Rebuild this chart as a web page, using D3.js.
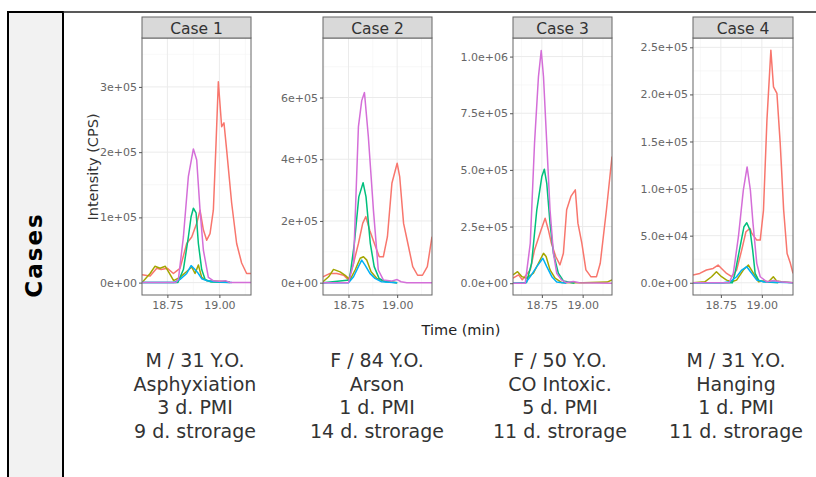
<!DOCTYPE html>
<html>
<head>
<meta charset="utf-8">
<script src="https://cdn.jsdelivr.net/npm/d3@7"></script>
<style>
  html, body { margin: 0; padding: 0; background: #fff; }
  svg { display: block; }
</style>
</head>
<body>
<svg id="chart" width="816" height="477"></svg>
<script>
// ---------------- DATA ----------------
const caseNames = ["Case 1", "Case 2", "Case 3", "Case 4"];
const seriesNames = ["s1", "s2", "s3", "s4", "s5"];
const seriesColors = ["#F8766D", "#A3A500", "#00BF7D", "#00B0F6", "#D46ED8"];

const xTickValues = [18.75, 19.00];
const xTickLabels = ["18.75", "19.00"];

const yTicksCase1 = [0, 100000, 200000, 300000];
const yLabelsCase1 = ["0e+00", "1e+05", "2e+05", "3e+05"];
const yTicksCase2 = [0, 200000, 400000, 600000];
const yLabelsCase2 = ["0e+00", "2e+05", "4e+05", "6e+05"];
const yTicksCase3 = [0, 250000, 500000, 750000, 1000000];
const yLabelsCase3 = ["0.0e+00", "2.5e+05", "5.0e+05", "7.5e+05", "1.0e+06"];
const yTicksCase4 = [0, 50000, 100000, 150000, 200000, 250000];
const yLabelsCase4 = ["0.0e+00", "5.0e+04", "1.0e+05", "1.5e+05", "2.0e+05", "2.5e+05"];

// Case 1 traces: [time (min), intensity (CPS)]
const case1Red = [[18.628,12000],[18.667,10000],[18.699,22000],[18.72,20000],[18.75,22000],[18.779,14000],[18.795,18000],[18.811,22000],[18.843,60000],[18.867,70000],[18.891,91000],[18.907,111000],[18.923,81000],[18.939,65000],[18.955,75000],[18.971,111000],[18.984,214000],[18.995,308000],[19.011,239000],[19.022,245000],[19.035,203000],[19.059,122000],[19.083,60000],[19.107,30000],[19.131,14000],[19.152,14000]];
const case1Olive = [[18.628,0],[18.667,14000],[18.69,25000],[18.715,22000],[18.74,25000],[18.76,14000],[18.78,3000],[18.81,8000],[18.843,17000],[18.867,24000],[18.883,14000],[18.899,27000],[18.915,8000],[18.939,3000],[19.0,2000],[19.05,1000]];
const case1Green = [[18.628,0],[18.80,0],[18.827,20000],[18.851,70000],[18.864,101000],[18.875,114000],[18.888,107000],[18.899,60000],[18.915,20000],[18.931,5000],[18.96,1000],[19.05,0]];
const case1Blue = [[18.628,0],[18.78,0],[18.811,5000],[18.843,14000],[18.864,26000],[18.883,20000],[18.899,14000],[18.915,6000],[18.939,3000],[19.0,1000],[19.06,0]];
const case1Purple = [[18.628,0],[18.79,0],[18.803,5000],[18.827,70000],[18.851,163000],[18.875,205000],[18.891,188000],[18.907,111000],[18.923,50000],[18.947,8000],[18.97,3000],[19.0,2000],[19.03,3000],[19.05,0],[19.152,0]];

// Case 2 traces
const case2Red = [[18.619,19000],[18.655,30000],[18.69,30000],[18.725,24000],[18.75,9000],[18.776,63000],[18.801,127000],[18.823,192000],[18.839,214000],[18.859,170000],[18.883,127000],[18.908,84000],[18.929,84000],[18.95,149000],[18.973,322000],[19.0,387000],[19.013,344000],[19.033,192000],[19.055,127000],[19.08,52000],[19.105,24000],[19.13,24000],[19.155,52000],[19.179,149000]];
const case2Olive = [[18.619,3000],[18.648,19000],[18.673,43000],[18.707,35000],[18.733,24000],[18.758,9000],[18.784,41000],[18.81,79000],[18.827,84000],[18.844,73000],[18.866,35000],[18.895,14000],[18.929,5000],[19.0,0]];
const case2Green = [[18.619,0],[18.755,9000],[18.78,127000],[18.803,278000],[18.825,324000],[18.84,278000],[18.862,127000],[18.882,52000],[18.907,14000],[18.94,3000],[19.0,0]];
const case2Blue = [[18.619,0],[18.75,0],[18.776,19000],[18.801,52000],[18.818,73000],[18.835,57000],[18.86,30000],[18.886,14000],[18.92,3000],[19.0,0]];
const case2Purple = [[18.619,0],[18.75,0],[18.776,63000],[18.801,506000],[18.818,590000],[18.832,616000],[18.852,473000],[18.878,236000],[18.903,41000],[18.929,9000],[18.97,5000],[19.0,10000],[19.02,3000],[19.05,0],[19.179,0]];

// Case 3 traces
const case3Red = [[18.573,22000],[18.607,37000],[18.63,15000],[18.679,59000],[18.705,147000],[18.745,235000],[18.77,287000],[18.79,235000],[18.808,177000],[18.835,118000],[18.861,81000],[18.882,132000],[18.902,324000],[18.928,383000],[18.955,412000],[18.971,265000],[18.995,177000],[19.02,59000],[19.05,29000],[19.085,29000],[19.108,88000],[19.146,324000],[19.18,559000]];
const case3Olive = [[18.573,37000],[18.601,51000],[18.628,29000],[18.656,22000],[18.698,44000],[18.729,88000],[18.76,132000],[18.776,118000],[18.8,59000],[18.831,22000],[18.872,3000],[19.0,2000],[19.15,5000],[19.18,15000]];
const case3Green = [[18.573,0],[18.656,3000],[18.687,88000],[18.719,324000],[18.75,471000],[18.765,503000],[18.78,441000],[18.8,265000],[18.821,132000],[18.851,44000],[18.882,10000],[18.95,0]];
const case3Blue = [[18.573,0],[18.648,0],[18.679,29000],[18.719,73000],[18.756,110000],[18.78,73000],[18.811,29000],[18.841,5000],[18.9,0]];
const case3Purple = [[18.573,0],[18.648,0],[18.679,177000],[18.705,618000],[18.729,911000],[18.746,1027000],[18.76,911000],[18.78,618000],[18.8,324000],[18.821,132000],[18.841,44000],[18.87,15000],[18.9,3000],[18.943,8000],[18.98,2000],[19.18,0]];

// Case 4 traces
const case4Red = [[18.58,8200],[18.621,9900],[18.662,13500],[18.703,15200],[18.733,18800],[18.754,15200],[18.785,9900],[18.816,6400],[18.846,13500],[18.877,34700],[18.903,54200],[18.928,57700],[18.939,52400],[18.969,45300],[18.99,45300],[19.01,77200],[19.031,172700],[19.055,247000],[19.071,208000],[19.092,201000],[19.112,148000],[19.133,77200],[19.154,31100],[19.174,20600],[19.19,9900]];
const case4Olive = [[18.58,0],[18.652,1000],[18.693,6400],[18.723,11700],[18.754,6400],[18.785,2800],[18.816,1000],[18.846,2800],[18.887,13500],[18.918,18800],[18.949,9900],[18.98,1000],[19.01,2000],[19.041,1000],[19.07,6400],[19.09,2000],[19.12,1000],[19.19,0]];
const case4Green = [[18.58,0],[18.82,0],[18.836,9900],[18.867,38200],[18.891,59500],[18.908,63700],[18.928,55900],[18.944,34700],[18.959,9900],[18.98,2800],[19.01,1000],[19.1,0]];
const case4Blue = [[18.58,0],[18.764,0],[18.805,1000],[18.846,6400],[18.877,13500],[18.908,17000],[18.939,9900],[18.969,2800],[19.01,1000],[19.19,0]];
const case4Purple = [[18.58,0],[18.8,0],[18.826,9900],[18.857,48900],[18.887,98400],[18.91,123000],[18.93,98400],[18.946,63000],[18.969,20600],[18.99,6400],[19.031,1000],[19.071,2500],[19.11,1000],[19.19,0]];

const caseDescriptions = [
  ["M / 31 Y.O.", "Asphyxiation", "3 d. PMI", "9 d. strorage"],
  ["F / 84 Y.O.", "Arson", "1 d. PMI", "14 d. strorage"],
  ["F / 50 Y.O.", "CO Intoxic.", "5 d. PMI", "11 d. strorage"],
  ["M / 31 Y.O.", "Hanging", "1 d. PMI", "11 d. strorage"]
];

// ---------------- LAYOUT ----------------
const panels = [
  { series: [case1Red, case1Olive, case1Green, case1Blue, case1Purple], yTicks: yTicksCase1, yLabels: yLabelsCase1,
    x0: 142, x1: 251, xDomain: [18.628, 19.152], yDomain: [-19000, 375000] },
  { series: [case2Red, case2Olive, case2Green, case2Blue, case2Purple], yTicks: yTicksCase2, yLabels: yLabelsCase2,
    x0: 323, x1: 432, xDomain: [18.619, 19.179], yDomain: [-40000, 793000] },
  { series: [case3Red, case3Olive, case3Green, case3Blue, case3Purple], yTicks: yTicksCase3, yLabels: yLabelsCase3,
    x0: 513, x1: 612, xDomain: [18.573, 19.18], yDomain: [-52000, 1082000] },
  { series: [case4Red, case4Olive, case4Green, case4Blue, case4Purple], yTicks: yTicksCase4, yLabels: yLabelsCase4,
    x0: 693, x1: 793, xDomain: [18.580, 19.19], yDomain: [-13000, 259900] }
];
const plotTop = 38, plotBottom = 295, stripTop = 17;
const descCenters = [195, 377, 560, 736];
const descBaselines = [366.5, 390.5, 414, 438];

const svg = d3.select("#chart");
const FONT = "'DejaVu Sans', sans-serif";

// Left "Cases" box and frame
svg.append("rect").attr("x", 8).attr("y", 12).attr("width", 55).attr("height", 480)
  .attr("fill", "#f2f2f2").attr("stroke", "#000").attr("stroke-width", 2);
svg.append("line").attr("x1", 63).attr("x2", 816).attr("y1", 12).attr("y2", 12)
  .attr("stroke", "#222").attr("stroke-width", 1.5);
svg.append("text").attr("transform", "translate(41.5,255) rotate(-90)")
  .attr("text-anchor", "middle").attr("font-family", FONT).attr("font-weight", "bold")
  .attr("font-size", 23).attr("letter-spacing", 2).attr("fill", "#000").text("Cases");

panels.forEach((p, i) => {
  const x = d3.scaleLinear().domain(p.xDomain).range([p.x0, p.x1]);
  const y = d3.scaleLinear().domain(p.yDomain).range([plotBottom, plotTop]);
  const g = svg.append("g");

  g.append("rect").attr("x", p.x0).attr("y", plotTop).attr("width", p.x1 - p.x0)
    .attr("height", plotBottom - plotTop).attr("fill", "#fff");

  // minor grid
  const xMinor = [18.5, 18.625, 18.875, 19.125, 19.375].filter(v => v > p.xDomain[0] && v < p.xDomain[1]);
  const yStep = p.yTicks[1] - p.yTicks[0];
  const yMinor = [];
  for (let k = -1; k < p.yTicks.length + 1; k++) {
    const v = k * yStep + yStep / 2;
    if (v > p.yDomain[0] && v < p.yDomain[1]) yMinor.push(v);
  }
  g.selectAll(".xminor").data(xMinor).enter().append("line")
    .attr("x1", d => x(d)).attr("x2", d => x(d)).attr("y1", plotTop).attr("y2", plotBottom)
    .attr("stroke", "#f3f3f3").attr("stroke-width", 0.6);
  g.selectAll(".yminor").data(yMinor).enter().append("line")
    .attr("x1", p.x0).attr("x2", p.x1).attr("y1", d => y(d)).attr("y2", d => y(d))
    .attr("stroke", "#f3f3f3").attr("stroke-width", 0.6);
  // major grid
  g.selectAll(".xmajor").data(xTickValues).enter().append("line")
    .attr("x1", d => x(d)).attr("x2", d => x(d)).attr("y1", plotTop).attr("y2", plotBottom)
    .attr("stroke", "#ebebeb").attr("stroke-width", 1);
  g.selectAll(".ymajor").data(p.yTicks).enter().append("line")
    .attr("x1", p.x0).attr("x2", p.x1).attr("y1", d => y(d)).attr("y2", d => y(d))
    .attr("stroke", "#ebebeb").attr("stroke-width", 1);

  // traces
  const line = d3.line().x(d => x(d[0])).y(d => y(d[1]));
  g.append("defs").append("clipPath").attr("id", "clip" + i)
    .append("rect").attr("x", p.x0).attr("y", plotTop).attr("width", p.x1 - p.x0).attr("height", plotBottom - plotTop);
  const tr = g.append("g").attr("clip-path", `url(#clip${i})`);
  p.series.forEach((s, j) => {
    tr.append("path").datum(s).attr("d", line).attr("fill", "none")
      .attr("stroke", seriesColors[j]).attr("stroke-width", 1.5).attr("stroke-linejoin", "round");
  });

  // panel border
  g.append("rect").attr("x", p.x0).attr("y", plotTop).attr("width", p.x1 - p.x0)
    .attr("height", plotBottom - plotTop).attr("fill", "none").attr("stroke", "#666").attr("stroke-width", 1);

  // strip
  g.append("rect").attr("x", p.x0).attr("y", stripTop).attr("width", p.x1 - p.x0)
    .attr("height", plotTop - stripTop).attr("fill", "#d9d9d9").attr("stroke", "#666").attr("stroke-width", 1);
  g.append("text").attr("x", (p.x0 + p.x1) / 2).attr("y", 33.5).attr("text-anchor", "middle")
    .attr("font-family", FONT).attr("font-size", 15.5).attr("fill", "#333").text(caseNames[i]);

  // axes
  const yAxis = d3.axisLeft(y).tickValues(p.yTicks).tickFormat((d, k) => p.yLabels[k]).tickSize(3).tickPadding(2);
  const ya = g.append("g").attr("transform", `translate(${p.x0},0)`).call(yAxis);
  const xAxis = d3.axisBottom(x).tickValues(xTickValues).tickFormat((d, k) => xTickLabels[k]).tickSize(3).tickPadding(3);
  const xa = g.append("g").attr("transform", `translate(0,${plotBottom})`).call(xAxis);
  [ya, xa].forEach(a => {
    a.select(".domain").remove();
    a.selectAll(".tick line").attr("stroke", "#555");
    a.selectAll(".tick text").attr("fill", "#666").attr("font-family", FONT).attr("font-size", 11);
  });

  caseDescriptions[i].forEach((t, k) => {
    svg.append("text").attr("x", descCenters[i]).attr("y", descBaselines[k]).attr("text-anchor", "middle")
      .attr("font-family", FONT).attr("font-size", 19).attr("fill", "#333").text(t);
  });
});

// axis titles
svg.append("text").attr("transform", "translate(98,167) rotate(-90)").attr("text-anchor", "middle")
  .attr("font-family", FONT).attr("font-size", 14.5).attr("fill", "#333").text("Intensity (CPS)");
svg.append("text").attr("x", 461).attr("y", 335).attr("text-anchor", "middle")
  .attr("font-family", FONT).attr("font-size", 14.5).attr("fill", "#222").text("Time (min)");
</script>
</body>
</html>
